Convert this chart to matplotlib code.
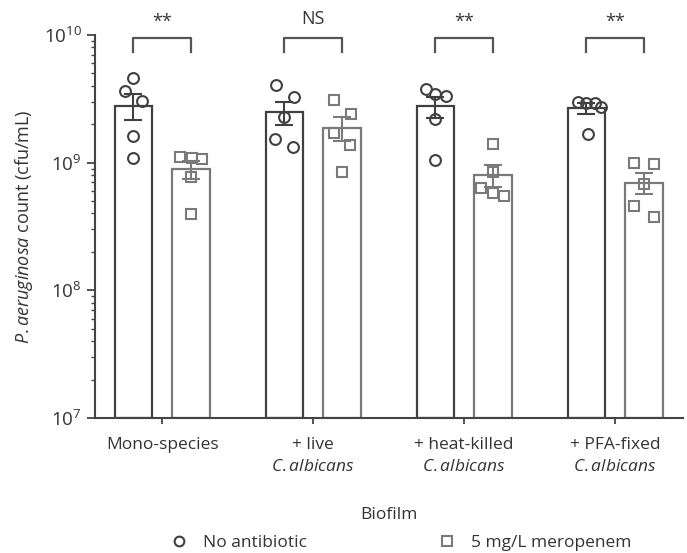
import numpy as np
import matplotlib
matplotlib.use("Agg")
import matplotlib.pyplot as plt
from matplotlib.lines import Line2D

# P. aeruginosa counts in biofilms, with/without meropenem
plt.rcParams['font.family'] = ['Open Sans', 'DejaVu Sans']
plt.rcParams['mathtext.fontset'] = 'custom'
plt.rcParams['mathtext.it'] = 'Open Sans:italic'
plt.rcParams['mathtext.rm'] = 'Open Sans'

categories = ["Mono-species", "+ live\n$\\mathit{C. albicans}$",
              "+ heat-killed\n$\\mathit{C. albicans}$", "+ PFA-fixed\n$\\mathit{C. albicans}$"]
series = ["No antibiotic", "5 mg/L meropenem"]

# replicate counts (cfu/mL)
no_ab = [
    [4.6e9, 3.64e9, 3.04e9, 1.62e9, 1.09e9],
    [4.06e9, 3.27e9, 2.28e9, 1.53e9, 1.33e9],
    [3.78e9, 3.45e9, 3.33e9, 2.2e9, 1.05e9],
    [3.0e9, 2.95e9, 2.95e9, 2.75e9, 1.68e9],
]
mero = [
    [1.11e9, 1.09e9, 1.07e9, 7.7e8, 3.96e8],
    [3.1e9, 2.4e9, 1.7e9, 1.38e9, 8.45e8],
    [1.4e9, 8.45e8, 6.3e8, 5.8e8, 5.5e8],
    [9.96e8, 9.8e8, 6.8e8, 4.57e8, 3.76e8],
]
# horizontal jitter of points inside each bar (bar-width units)
no_ab_dx = [
    [0.0, -0.22, 0.22, 0.0, 0.0],
    [-0.22, 0.25, 0.0, -0.25, 0.22],
    [-0.25, 0.0, 0.28, 0.0, 0.0],
    [-0.22, 0.0, 0.22, 0.4, 0.05],
]
mero_dx = [
    [-0.28, 0.02, 0.3, 0.0, 0.0],
    [-0.22, 0.25, -0.22, 0.22, 0.0],
    [0.0, 0.0, -0.3, 0.0, 0.3],
    [-0.25, 0.28, 0.0, -0.25, 0.28],
]
sig_labels = ["**", "NS", "**", "**"]

BOTTOM = 1e7
W = 0.25
OFF = 0.19
c_dark = "#404040"
c_light = "#7a7a7a"
txt = "#333333"

fig = plt.figure(figsize=(6.87, 5.53), dpi=100)
ax = fig.add_axes([95 / 687, 1 - 418 / 553, (683 - 95) / 687, (418 - 35) / 553])
ax.set_yscale("log")
x = np.arange(len(categories))

for vals, dxs, sign, col, mk, ms in [(no_ab, no_ab_dx, -1, c_dark, "o", 7.8),
                                     (mero, mero_dx, 1, c_light, "s", 7.6)]:
    arr = np.array(vals)
    means = arr.mean(axis=1)
    sem = arr.std(axis=1, ddof=1) / np.sqrt(arr.shape[1])
    xs = x + sign * OFF
    ax.bar(xs, means - BOTTOM, bottom=BOTTOM, width=W, facecolor="white",
           edgecolor=col, linewidth=1.6, zorder=2)
    ax.errorbar(xs, means, yerr=sem, fmt="none", ecolor=col, elinewidth=1.5,
                capsize=6.8, capthick=1.5, zorder=4)
    for i in range(len(x)):
        px = xs[i] + np.array(dxs[i]) * W
        ax.plot(px, arr[i], ls="none", marker=mk, ms=ms, mfc="none",
                mec=col, mew=1.5, zorder=3, clip_on=False)

# significance brackets
for i, lab in enumerate(sig_labels):
    x0, x1 = x[i] - OFF, x[i] + OFF
    ax.plot([x0, x0, x1, x1], [7.4e9, 9.5e9, 9.5e9, 7.4e9], color="#555555",
            lw=1.6, clip_on=False, zorder=5)
    yt = 1.27e10 if lab == "**" else 1.33e10
    ax.text(x[i], yt, lab, ha="center", va="center", fontsize=13,
            color=txt, clip_on=False)

ax.set_ylim(1e7, 1e10)
ax.set_xlim(-0.445, 3.45)
ax.set_xticks(x)
ax.set_xticklabels(categories, fontsize=12.5, color=txt, linespacing=1.45)
ax.tick_params(axis="x", length=4, width=1.3, color="#444444", pad=10)
ax.tick_params(axis="y", which="major", length=6, width=1.3, color="#444444",
               labelsize=13.5, labelcolor=txt)
ax.tick_params(axis="y", which="minor", length=3, width=1.0, color="#444444")
for s in ["top", "right"]:
    ax.spines[s].set_visible(False)
for s in ["left", "bottom"]:
    ax.spines[s].set_linewidth(1.5)
    ax.spines[s].set_color("#444444")

ax.set_ylabel("$\\mathit{P. aeruginosa}$ count (cfu/mL)", fontsize=13,
              color=txt, labelpad=6)
ax.set_xlabel("Biofilm", fontsize=12.5, color=txt, labelpad=23)

handles = [Line2D([], [], ls="none", marker="o", ms=7, mfc="none", mec=c_dark, mew=1.5),
           Line2D([], [], ls="none", marker="s", ms=7, mfc="none", mec=c_light, mew=1.5)]
fig.legend(handles, series, loc="lower center", ncol=2, frameon=False,
           bbox_to_anchor=(0.577, -0.024), columnspacing=7.1, handletextpad=0.35,
           fontsize=12.5, labelcolor=txt)

fig.savefig("out.png", dpi=100)
